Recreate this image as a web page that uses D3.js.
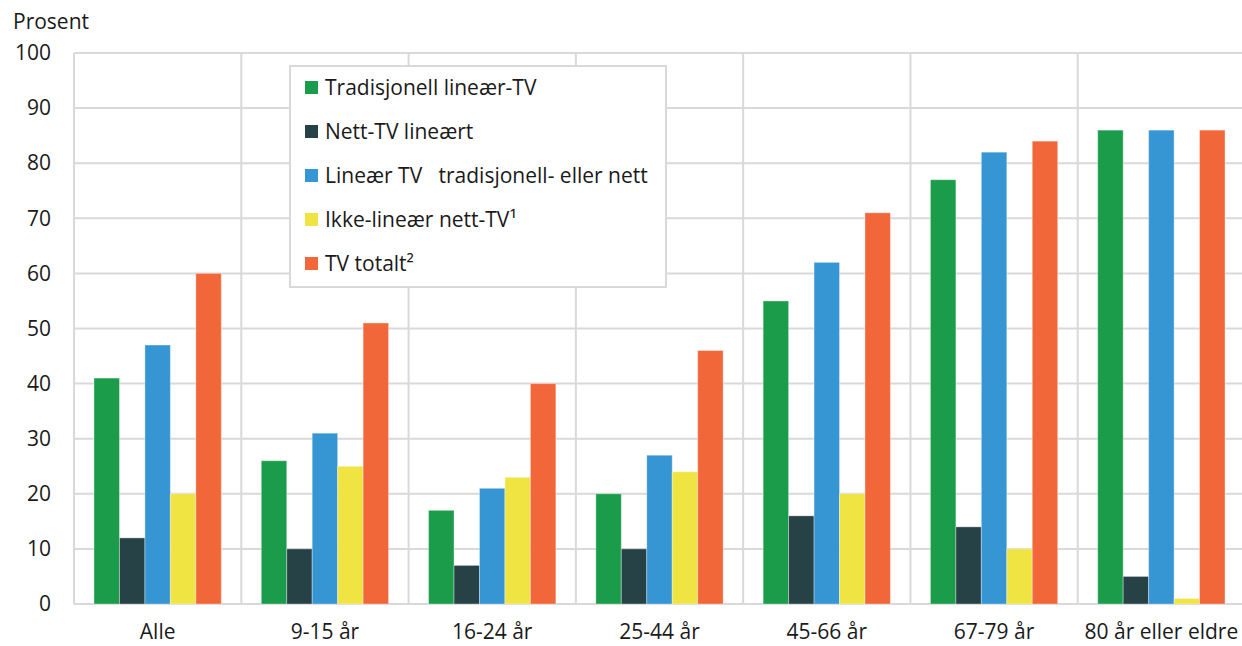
<!DOCTYPE html>
<html>
<head>
<meta charset="utf-8">
<script src="https://cdn.jsdelivr.net/npm/d3@7"></script>
<style>
  body { margin: 0; background: #fff; }
  svg { display: block; font-family: "Open Sans", "Noto Sans", sans-serif; }
  text { font-family: "Open Sans", "Noto Sans", sans-serif; font-size: 21px; fill: #1a1a1a; }
</style>
</head>
<body>
<svg id="chart" width="1242" height="646"></svg>
<script>
var categories = ["Alle", "9-15 år", "16-24 år", "25-44 år", "45-66 år", "67-79 år", "80 år eller eldre"];
var seriesNames = ["Tradisjonell lineær-TV", "Nett-TV lineært", "Lineær TV   tradisjonell- eller nett", "Ikke-lineær nett-TV¹", "TV totalt²"];
var seriesColors = ["#1b9c4a", "#274247", "#3596d3", "#f0e443", "#f26739"];
var tradisjonell = [41, 26, 17, 20, 55, 77, 86];
var nettLineart = [12, 10, 7, 10, 16, 14, 5];
var linearTotal = [47, 31, 21, 27, 62, 82, 86];
var ikkeLinear = [20, 25, 23, 24, 20, 10, 1];
var tvTotalt = [60, 51, 40, 46, 71, 84, 86];
var yTicks = [0, 10, 20, 30, 40, 50, 60, 70, 80, 90, 100];

var seriesValues = [tradisjonell, nettLineart, linearTotal, ikkeLinear, tvTotalt];

var svg = d3.select("#chart");
var margin = { top: 53, right: -3, bottom: 42, left: 74 };
var width = +svg.attr("width") - margin.left - margin.right;
var height = +svg.attr("height") - margin.top - margin.bottom;

var g = svg.append("g")
  .attr("transform", "translate(" + margin.left + "," + margin.top + ")");

var x0 = d3.scaleBand().domain(categories).range([0, width]).paddingInner(0).paddingOuter(0);
var x1 = d3.scaleBand().domain(d3.range(seriesNames.length))
  .range([20, x0.bandwidth() - 20]).padding(0);
var y = d3.scaleLinear().domain([0, 100]).range([height, 0]);

// horizontal grid
g.append("g").selectAll("line")
  .data(yTicks)
  .enter().append("line")
  .attr("x1", 0).attr("x2", width)
  .attr("y1", d => y(d)).attr("y2", d => y(d))
  .attr("stroke", "#d9d9d9").attr("stroke-width", 2);

// vertical grid at category boundaries
var bounds = categories.map(c => x0(c)).concat([width]);
g.append("g").selectAll("line")
  .data(bounds)
  .enter().append("line")
  .attr("x1", d => d).attr("x2", d => d)
  .attr("y1", y(100)).attr("y2", y(0))
  .attr("stroke", "#d9d9d9").attr("stroke-width", 2);

// bars
var groups = g.selectAll(".grp")
  .data(categories)
  .enter().append("g")
  .attr("class", "grp")
  .attr("transform", d => "translate(" + x0(d) + ",0)");

groups.selectAll("rect")
  .data((c, ci) => seriesValues.map((s, si) => ({ si: si, value: s[ci] })))
  .enter().append("rect")
  .attr("x", d => x1(d.si))
  .attr("width", x1.bandwidth())
  .attr("y", d => y(d.value))
  .attr("height", d => y(0) - y(d.value))
  .attr("fill", d => seriesColors[d.si])
  .attr("stroke", "#ffffff")
  .attr("stroke-opacity", 0.35)
  .attr("stroke-width", 1);

// y axis
var yAxis = g.append("g")
  .call(d3.axisLeft(y).tickValues(yTicks).tickSize(0).tickPadding(23));
yAxis.select(".domain").remove();
yAxis.attr("font-size", null).attr("font-family", null);

// x axis
var xAxis = g.append("g")
  .attr("transform", "translate(0," + height + ")")
  .call(d3.axisBottom(x0).tickSize(0).tickPadding(20));
xAxis.select(".domain").remove();
xAxis.attr("font-size", null).attr("font-family", null);

// y label
svg.append("text")
  .attr("x", 13).attr("y", 29)
  .text("Prosent");

// legend
var legend = svg.append("g").attr("transform", "translate(290,66)");
legend.append("rect")
  .attr("width", 376).attr("height", 221)
  .attr("fill", "#fff").attr("stroke", "#d9d9d9").attr("stroke-width", 2);
var items = legend.selectAll(".item")
  .data(seriesNames)
  .enter().append("g")
  .attr("class", "item")
  .attr("transform", (d, i) => "translate(15," + (22 + i * 44) + ")");
items.append("rect")
  .attr("x", 0).attr("y", -7).attr("width", 13).attr("height", 13)
  .attr("fill", (d, i) => seriesColors[i]);
items.append("text")
  .attr("x", 20).attr("y", 0).attr("dy", "0.35em")
  .style("white-space", "pre")
  .text(d => d);
</script>
</body>
</html>
